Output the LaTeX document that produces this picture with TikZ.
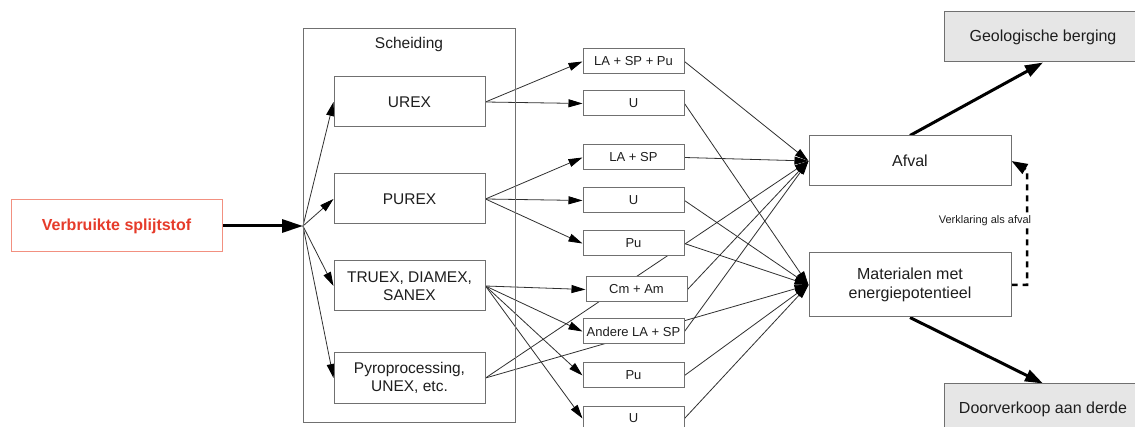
\documentclass[tikz,border=0pt]{standalone}
\usepackage{fontspec}
\setmainfont{Liberation Sans}
\usetikzlibrary{arrows.meta}
\pgfdeclarelayer{bgfill}
\pgfdeclarelayer{lines}
\pgfsetlayers{bgfill,lines,main}
\definecolor{boxgray}{HTML}{707070}
\definecolor{linegray}{HTML}{303030}
\definecolor{txt}{HTML}{1E1E1E}
\definecolor{redtxt}{HTML}{E63B2A}
\definecolor{redline}{HTML}{F29080}
\definecolor{geofill}{HTML}{E6E6E6}
\begin{document}
\begin{tikzpicture}[x=1pt,y=-1pt,
  box/.style={draw=boxgray, fill=white, line width=1pt, inner sep=0pt,
    minimum width=151pt, minimum height=50pt, align=center, text=txt,
    font=\fontsize{15.5}{18}\selectfont},
  sbox/.style={draw=boxgray, fill=white, line width=1pt, inner sep=0pt,
    minimum width=101pt, minimum height=25pt, text=txt,
    font=\fontsize{13}{15}\selectfont},
  rbox/.style={draw=boxgray, fill=white, line width=1pt, inner sep=0pt,
    minimum width=202pt, align=center, text=txt,
    font=\fontsize{16}{19}\selectfont},
  gbox/.style={draw=boxgray, fill=geofill, line width=1pt, inner sep=0pt,
    minimum width=198pt, minimum height=50pt, text=txt,
    font=\fontsize{16}{19}\selectfont},
  redbox/.style={draw=redline, fill=white, line width=1pt, inner sep=0pt,
    minimum width=211pt, minimum height=52pt, text=redtxt,
    font=\fontsize{16}{19}\selectfont\bfseries},
  schbox/.style={draw=boxgray, line width=1pt, inner sep=0pt},
  titletext/.style={text=txt, inner sep=0pt, font=\fontsize{15.5}{18}\selectfont},
  lbl/.style={fill=white, text=txt, inner sep=1pt, font=\fontsize{11}{13}\selectfont},
  conn/.style={draw=linegray, line width=0.8pt, -{Triangle[length=14pt,width=8pt,color=black]}},
  thickarr/.style={draw=black, line width=3pt, -{Triangle[length=18pt,width=12pt]}},
  leftarr/.style={draw=black, line width=3pt, -{Triangle[length=21pt,width=13pt]}},
  dashline/.style={draw=black, line width=2.5pt, dash pattern=on 6pt off 5pt,
    -{Triangle[length=16pt,width=11pt]}}
]
\begin{pgfonlayer}{bgfill}
  \fill[white] (0,0) rectangle (1135,427);
\end{pgfonlayer}
\useasboundingbox (0,0) rectangle (1135,427);

% left
\node[redbox] (verb) at (116.5,226) {Verbruikte splijtstof};
\coordinate (br) at (303,226);

% Scheiding
\node[schbox, minimum width=212pt, minimum height=393pt] (sch) at (409,225.5) {};
\node[titletext] (schtitle) at (409,44) {Scheiding};
\node[box] (urex) at (409.5,102) {UREX};
\node[box] (purex) at (409.5,199) {PUREX};
\node[box] (truex) at (409.5,286) {TRUEX, DIAMEX,\\SANEX};
\node[box] (pyro) at (409.5,378) {Pyroprocessing,\\UNEX, etc.};

% small boxes
\node[sbox] (la1) at (633.5,61.5) {LA + SP + Pu};
\node[sbox] (u1) at (633.5,103.5) {U};
\node[sbox] (la2) at (633.5,157.5) {LA + SP};
\node[sbox] (u2) at (633.5,200.5) {U};
\node[sbox] (pu1) at (633.5,243.5) {Pu};
\node[sbox] (cm) at (636.5,289.5) {Cm + Am};
\node[sbox] (and) at (633.5,331.5) {Andere LA + SP};
\node[sbox] (pu2) at (633.5,375.5) {Pu};
\node[sbox] (u3) at (633.5,418.5) {U};

% right
\node[rbox, minimum height=50pt] (afval) at (910,161) {Afval};
\node[rbox, minimum height=64pt] (mat) at (910,285) {Materialen met\\energiepotentieel};
\node[gbox] (geo) at (1043,37) {Geologische berging};
\node[gbox] (door) at (1043,409) {Doorverkoop aan derde};
\node[lbl] (verkl) at (985,221) {Verklaring als afval};
\coordinate (dc1) at (1027,285);
\coordinate (dc2) at (1027,170);

\begin{pgfonlayer}{lines}
  \draw[leftarr] (verb.east) -- (br);
  \draw[conn] (br) -- (urex.west);
  \draw[conn] (br) -- (purex.west);
  \draw[conn] (br) -- (truex.west);
  \draw[conn] (br) -- (pyro.west);

  \draw[conn] (urex.east) -- (la1.west);
  \draw[conn] (urex.east) -- (u1.west);
  \draw[conn] (purex.east) -- (la2.west);
  \draw[conn] (purex.east) -- (u2.west);
  \draw[conn] (purex.east) -- (pu1.west);
  \draw[conn] (truex.east) -- (cm.west);
  \draw[conn] (truex.east) -- (and.west);
  \draw[conn] (truex.east) -- (pu2.west);
  \draw[conn] (truex.east) -- (u3.west);

  \draw[conn] (pyro.east) -- (afval.west);
  \draw[conn] (pyro.east) -- (mat.west);

  \draw[conn] (la1.east) -- (afval.west);
  \draw[conn] (la2.east) -- (afval.west);
  \draw[conn] (cm.east) -- (afval.west);
  \draw[conn] (and.east) -- (afval.west);

  \draw[conn] (u1.east) -- (mat.west);
  \draw[conn] (u2.east) -- (mat.west);
  \draw[conn] (pu1.east) -- (mat.west);
  \draw[conn] (pu2.east) -- (mat.west);
  \draw[conn] (u3.east) -- (mat.west);

  \draw[thickarr] (afval.north) -- (geo.south);
  \draw[thickarr] (mat.south) -- (door.north);
  \draw[dashline] (mat.east) -- (dc1) -- (dc2) -- (afval.east);
\end{pgfonlayer}
\end{tikzpicture}
\end{document}
